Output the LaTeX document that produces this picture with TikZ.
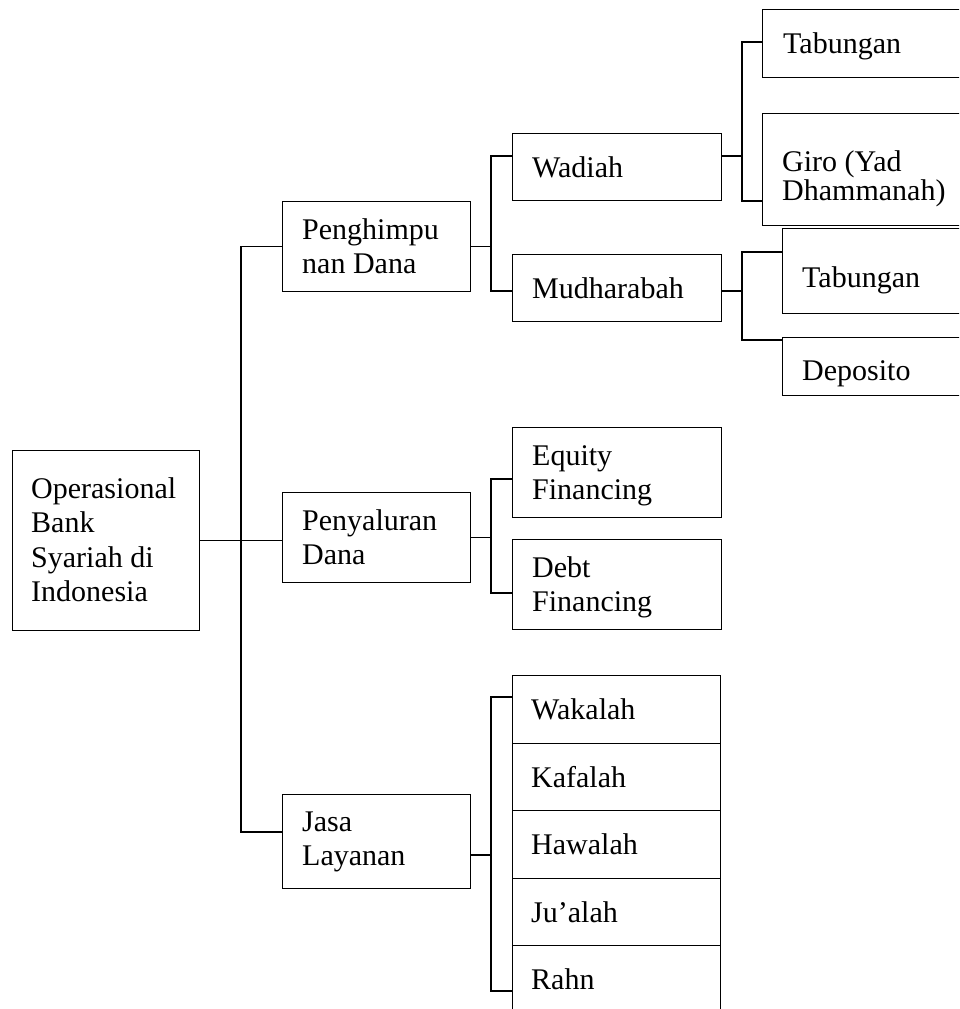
\documentclass[tikz,border=0pt]{standalone}
\usepackage{fontspec}
\setmainfont{Liberation Serif}
\usetikzlibrary{calc}

% multi-line cell whose baseline is that of its first line
\newcommand{\mlines}[1]{\begin{tabular}[t]{@{}l@{}}#1\end{tabular}}

\tikzset{
  box/.style={draw, line width=1.3pt, inner sep=0pt, anchor=north west},
  conn/.style={line width=1.1pt},
  txt/.style={anchor=base west, inner sep=0pt, font=\fontsize{30}{34.5}\selectfont},
  txtnarrow/.style={anchor=base west, inner sep=0pt, font=\fontsize{30}{29}\selectfont}
}

\begin{document}
\begin{tikzpicture}[x=1pt, y=-1pt]
  \useasboundingbox (0,0) rectangle (959,1009);
  \clip (0,0) rectangle (959,1009);

  % ---- boxes ----
  \node[box, minimum width=187pt, minimum height=180pt] (root) at (12,450) {};
  \node[box, minimum width=188pt, minimum height=90pt] (ph) at (282,201) {};
  \node[box, minimum width=188pt, minimum height=90pt] (py) at (282,492) {};
  \node[box, minimum width=188pt, minimum height=94pt] (ja) at (282,794) {};

  \node[box, minimum width=209pt, minimum height=67pt] (wa) at (512,133) {};
  \node[box, minimum width=209pt, minimum height=67pt] (mu) at (512,254) {};
  \node[box, minimum width=209pt, minimum height=90pt] (eq) at (512,427) {};
  \node[box, minimum width=209pt, minimum height=90pt] (de) at (512,539) {};

  \node[box, minimum width=208pt, minimum height=67.5pt] (wk) at (512,675) {};
  \node[box, minimum width=208pt, minimum height=67.5pt] (kf) at (512,742.5) {};
  \node[box, minimum width=208pt, minimum height=67.5pt] (hw) at (512,810) {};
  \node[box, minimum width=208pt, minimum height=67.5pt] (ju) at (512,877.5) {};
  \node[box, minimum width=208pt, minimum height=67.5pt] (rh) at (512,945) {};

  \node[box, minimum width=260pt, minimum height=68pt] (tb1) at (762,9) {};
  \node[box, minimum width=260pt, minimum height=112pt] (gi) at (762,113) {};
  \node[box, minimum width=240pt, minimum height=85pt] (tb2) at (782,228) {};
  \node[box, minimum width=240pt, minimum height=58pt] (dp) at (782,337) {};

  % ---- texts ----
  \node[txt] (rootT) at (31,498) {\mlines{Operasional\\Bank\\Syariah di\\Indonesia}};
  \node[txt] (phT) at (302,239) {\mlines{Penghimpu\\nan Dana}};
  \node[txt] (pyT) at (302,530) {\mlines{Penyaluran\\Dana}};
  \node[txt] (jaT) at (302,831) {\mlines{Jasa\\Layanan}};

  \node[txt] (waT) at (532,177) {Wadiah};
  \node[txt] (muT) at (532,298) {Mudharabah};
  \node[txt] (eqT) at (532,465) {\mlines{Equity\\Financing}};
  \node[txt] (deT) at (532,577) {\mlines{Debt\\Financing}};

  \node[txt] (wkT) at (531,719) {Wakalah};
  \node[txt] (kfT) at (531,787) {Kafalah};
  \node[txt] (hwT) at (531,854) {Hawalah};
  \node[txt] (juT) at (531,922) {Ju’alah};
  \node[txt] (rhT) at (531,989) {Rahn};

  \node[txt] (tb1T) at (783,53) {Tabungan};
  \node[txtnarrow] (giT) at (782,171) {\mlines{Giro (Yad\\Dhammanah)}};
  \node[txt] (tb2T) at (802,287) {Tabungan};
  \node[txt] (dpT) at (802,380) {Deposito};

  % ---- bus lines ----
  \coordinate (busA) at (241,0);
  \coordinate (busB) at (491,0);
  \coordinate (busC) at (742,0);

  % connection points on the boxes
  \coordinate (jaIn)  at ($(ja.north west)+(0,38)$);
  \coordinate (waIn)  at ($(wa.north west)+(0,23)$);
  \coordinate (muIn)  at ($(mu.north west)+(0,37)$);
  \coordinate (waOut) at ($(wa.north east)+(0,23)$);
  \coordinate (muOut) at ($(mu.north east)+(0,37)$);
  \coordinate (tb1In) at ($(tb1.north west)+(0,33)$);
  \coordinate (giIn)  at ($(gi.north west)+(0,88)$);
  \coordinate (tb2In) at ($(tb2.north west)+(0,24)$);
  \coordinate (dpIn)  at ($(dp.north west)+(0,3)$);
  \coordinate (eqIn)  at ($(eq.north west)+(0,52)$);
  \coordinate (deIn)  at ($(de.north west)+(0,54)$);
  \coordinate (jaOut) at ($(ja.north east)+(0,61)$);
  \coordinate (wkIn)  at ($(wk.north west)+(0,22)$);
  \coordinate (rhIn)  at ($(rh.north west)+(0,46)$);

  % root level
  \draw[conn] (root.east) -- (py.west |- root.east);
  \draw[conn] (ph.west) -- (ph.west -| busA) -- (jaIn -| busA) -- (jaIn);

  % Penghimpunan Dana
  \draw[conn] (ph.east) -- (ph.east -| busB);
  \draw[conn] (waIn) -- (waIn -| busB) -- (muIn -| busB) -- (muIn);

  % Wadiah
  \draw[conn] (waOut) -- (waOut -| busC);
  \draw[conn] (tb1In) -- (tb1In -| busC) -- (giIn -| busC) -- (giIn);

  % Mudharabah
  \draw[conn] (muOut) -- (muOut -| busC);
  \draw[conn] (tb2In) -- (tb2In -| busC) -- (dpIn -| busC) -- (dpIn);

  % Penyaluran Dana
  \draw[conn] (py.east) -- (py.east -| busB);
  \draw[conn] (eqIn) -- (eqIn -| busB) -- (deIn -| busB) -- (deIn);

  % Jasa Layanan
  \draw[conn] (jaOut) -- (jaOut -| busB);
  \draw[conn] (wkIn) -- (wkIn -| busB) -- (rhIn -| busB) -- (rhIn);
\end{tikzpicture}
\end{document}
